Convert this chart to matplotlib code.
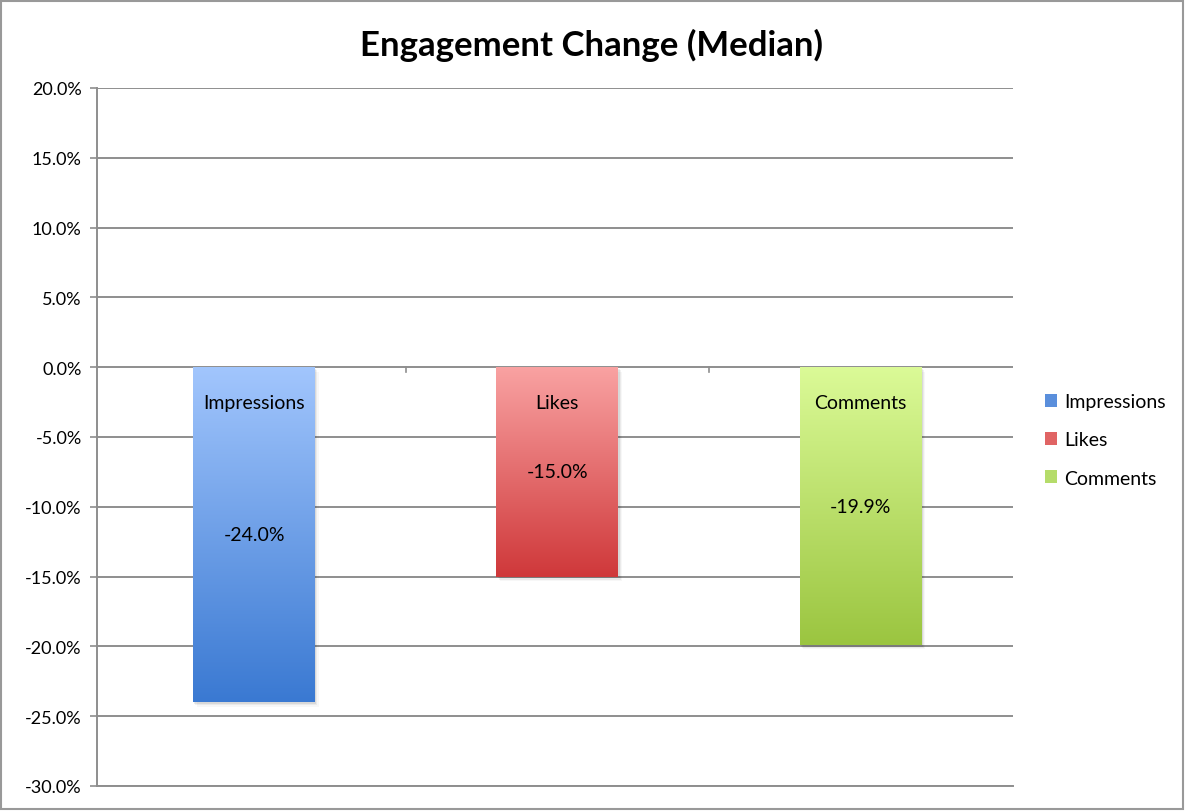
import numpy as np
import matplotlib
matplotlib.use("Agg")
import matplotlib.pyplot as plt
from matplotlib.colors import LinearSegmentedColormap
from matplotlib.patches import Rectangle
from matplotlib.ticker import FuncFormatter

categories = ["Impressions", "Likes", "Comments"]
values = [-24.0, -15.0, -19.9]
top_colors = ["#a2c6fd", "#f9a2a2", "#dbfa97"]
bottom_colors = ["#3a79d2", "#cf383a", "#9bc540"]
yticks = [20, 15, 10, 5, 0, -5, -10, -15, -20, -25, -30]

plt.rcParams['font.family'] = ['Lato', 'DejaVu Sans']

fig = plt.figure(figsize=(11.87, 8.12), dpi=100)
ax = fig.add_axes([0.0817, 0.0308, 0.7717, 0.8596])

grid_col = "#8e8e8e"
x = np.arange(len(categories))
width = 0.402
bars = ax.bar(x, values, width=width, color="none", edgecolor="none", zorder=3)

grad = np.linspace(0, 1, 256).reshape(-1, 1)
for i, b in enumerate(bars):
    x0 = b.get_x()
    h = b.get_height()
    # soft shadow
    for k, a in enumerate([0.07, 0.05, 0.03]):
        off = 0.12 + 0.1 * k
        ax.add_patch(Rectangle((x0 + 0.004 * (k + 1), h - off), width, -h, facecolor="#000000",
                               alpha=a, edgecolor="none", zorder=2))
    cmap = LinearSegmentedColormap.from_list("g%d" % i, [top_colors[i], bottom_colors[i]])
    im = ax.imshow(grad, cmap=cmap, aspect="auto", extent=[x0, x0 + width, h, 0],
                   zorder=3, interpolation="bilinear")
    im.set_clip_path(b)
    ax.text(x[i], -2.5, categories[i], ha="center", va="center", fontsize=14, zorder=4)
    ax.text(x[i], h / 2, "%.1f%%" % values[i], ha="center", va="center", fontsize=14, zorder=4)

ax.set_xlim(-0.5177, 2.502)
ax.set_ylim(-30, 20)
ax.set_yticks(yticks)
ax.yaxis.set_major_formatter(FuncFormatter(lambda v, p: "%.1f%%" % v))
ax.tick_params(axis="y", labelsize=13, length=5, color=grid_col, width=1.2, pad=6)
ax.set_xticks([])
for yv in yticks:
    ax.axhline(yv, color=grid_col, lw=1.4, zorder=1)
# category boundary ticks on the zero line
for bx in [0.5, 1.5]:
    ax.plot([bx, bx], [0, -0.35], color=grid_col, lw=1.2, zorder=1)

for s in ["top", "right"]:
    ax.spines[s].set_visible(False)
ax.spines["left"].set_color(grid_col)
ax.spines["left"].set_linewidth(1.4)
ax.spines["bottom"].set_color(grid_col)
ax.spines["bottom"].set_linewidth(1.4)

handles = [Rectangle((0, 0), 1, 1, facecolor=c, edgecolor="none")
           for c in ["#5a8fdc", "#e06464", "#b5dc6a"]]
fig.legend(handles, categories, loc="center left", bbox_to_anchor=(0.8655, 0.457),
           frameon=False, fontsize=14, handlelength=0.65, handleheight=0.65,
           handletextpad=0.35, labelspacing=1.1)

fig.text(0.4987, 0.9446, "Engagement Change (Median)", ha="center", va="center",
         fontsize=25, fontweight="bold")

fig.patches.append(Rectangle((0.001, 0.003), 0.996, 0.995, transform=fig.transFigure,
                             fill=False, edgecolor="#999999", lw=1.5))

fig.savefig("out.png", dpi=100)
